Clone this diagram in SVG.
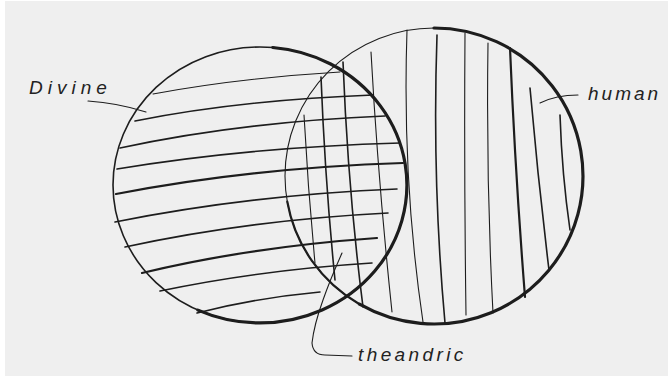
<svg xmlns="http://www.w3.org/2000/svg" width="672" height="382" viewBox="0 0 672 382">
<style>
.ink{fill:none;stroke:#1d1d1d;stroke-linecap:round;stroke-linejoin:round}
.t1{stroke-width:1.1}
.t2{stroke-width:1.6}
.t3{stroke-width:2.2}
.t4{stroke-width:3.2}
.lbl{font-family:"Liberation Sans","DejaVu Sans",sans-serif;font-size:19px;fill:#222;font-style:italic}
</style>
<rect x="0" y="0" width="672" height="382" fill="#ffffff"/>
<rect x="5" y="1" width="663" height="375" fill="#efefef"/>
<g id="connectors">
<path class="ink t1" d="M88,101 Q118,103 146,112"/>
<path class="ink t1" d="M540,103 Q556,95 578,95"/>
<path class="ink t1" d="M342,253 Q330,280 323,300 Q314,325 312,343 Q313,355 325,355 L352,356"/>
</g>
<g id="divine-circle">
<ellipse class="ink t2" cx="260" cy="185" rx="147" ry="138"/>
<path class="ink t4" d="M272.8,47.5 A147,138 0 1 1 197.9,310.1"/>
</g>
<g id="human-circle">
<ellipse class="ink t1" cx="434" cy="176" rx="149" ry="148"/>
<path class="ink t4" d="M434,28 A149,148 0 1 1 359.5,304.2"/>
<path class="ink t3" d="M359.5,304.2 A149,148 0 0 1 287.3,201.7"/>
</g>
<g id="divine-hatching">
<path class="ink t1" d="M153,94 Q240,78 340,72"/>
<path class="ink t2" d="M135,121 Q240,100 373,95"/>
<path class="ink t2" d="M120,148 Q240,122 385,116"/>
<path class="ink t2" d="M117,169 Q250,147 400,143"/>
<path class="ink t3" d="M116,194 Q250,168 403,163"/>
<path class="ink t2" d="M115,222 Q250,195 397,189"/>
<path class="ink t2" d="M125,247 Q250,220 388,213"/>
<path class="ink t3" d="M142,273 Q250,247 377,238"/>
<path class="ink t2" d="M160,291 Q260,270 372,263"/>
<path class="ink t2" d="M197,313 Q255,298 320,292"/>
</g>
<g id="human-hatching">
<path class="ink t1" d="M304,115 Q308,190 315,263"/>
<path class="ink t2" d="M321,77 Q325,180 335,280"/>
<path class="ink t2" d="M343,62 Q348,190 363,307"/>
<path class="ink t1" d="M371,52 Q378,180 392,312"/>
<path class="ink t1" d="M407,30 Q402,180 423,322"/>
<path class="ink t2" d="M437,35 Q432,180 445,323"/>
<path class="ink t1" d="M465,33 Q464,170 466,315"/>
<path class="ink t1" d="M488,43 Q486,180 493,313"/>
<path class="ink t3" d="M510,48 Q515,170 525,297"/>
<path class="ink t2" d="M530,88 Q538,180 549,270"/>
<path class="ink t2" d="M560,115 Q562,175 570,230"/>
</g>
<g id="label-divine"><text class="lbl" x="29" y="94" letter-spacing="5">Divine</text></g>
<g id="label-human"><text class="lbl" x="588" y="100" letter-spacing="3">human</text></g>
<g id="label-theandric"><text class="lbl" x="358" y="361" font-size="18" letter-spacing="3.4">theandric</text></g>
</svg>
